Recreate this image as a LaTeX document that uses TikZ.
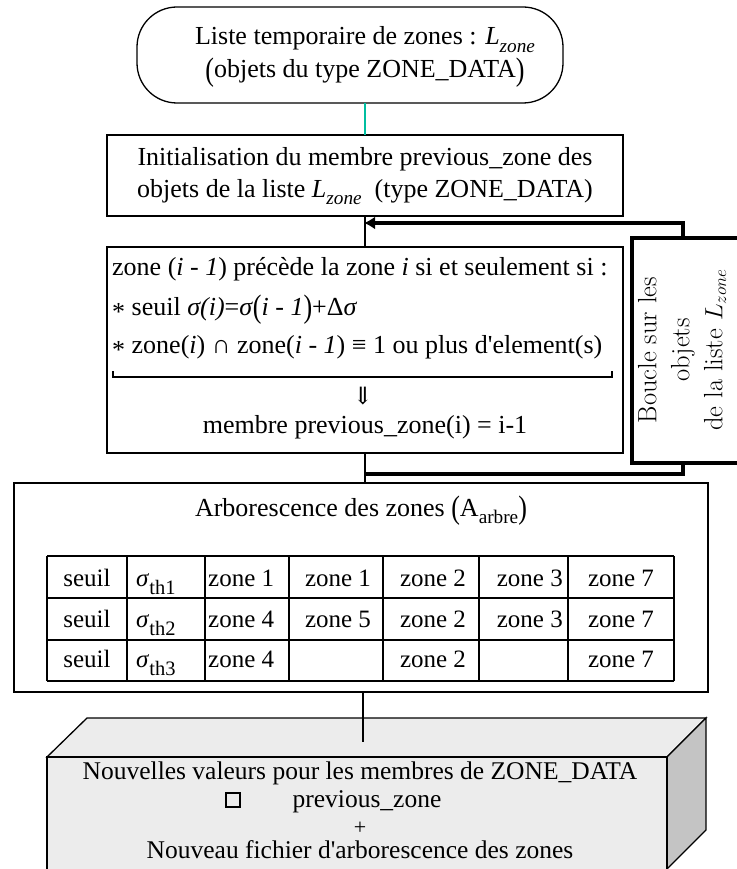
\documentclass[tikz,border=0pt]{standalone}
\usepackage{fontspec}
\usepackage{graphicx}
\setmainfont{Liberation Serif}
\newfontfamily\lmr{Latin Modern Roman}
\newfontfamily\djs{DejaVu Serif}
\usetikzlibrary{arrows.meta}
\definecolor{tealline}{RGB}{0,190,160}
\definecolor{facegray}{RGB}{236,236,236}
\definecolor{sidegray}{RGB}{196,196,196}
\newcommand\sbs[1]{\raisebox{-0.28em}{\scalebox{0.74}{#1}}}
\newcommand\sbt[1]{\raisebox{-0.35em}{\scalebox{0.82}{#1}}}
\newcommand\bigp[1]{\raisebox{-0.08em}{\scalebox{1}[1.25]{#1}}}
\newcommand\astx{\raisebox{-0.2em}{*}}
\begin{document}
\begin{tikzpicture}[x=1pt,y=-1pt,
  frame/.style={draw, line width=1.3pt, inner sep=0pt, outer sep=0pt, anchor=north west},
  tx/.style={font=\fontsize{26}{33}\selectfont, inner sep=0pt, anchor=base},
  txl/.style={font=\fontsize{26}{33}\selectfont, inner sep=0pt, anchor=base west},
  tbl/.style={font=\fontsize{25}{30}\selectfont, inner sep=0pt, anchor=base},
  thinline/.style={line width=1.3pt},
  thickline/.style={line width=4.5pt},
  outtx/.style={font=\fontsize{25.5}{25}\selectfont, inner sep=0pt, anchor=base}]
\useasboundingbox (0,0) rectangle (736,869);

% start terminator
\node[frame, rounded corners=40pt, minimum width=426pt, minimum height=96pt] (start) at (137,7) {};
\node[tx] (t1a) at (365,45) {Liste temporaire de zones : \textit{L}\sbs{\textit{zone}}};
\node[tx] (t1b) at (365,78) {\bigp{(}objets du type ZONE\_DATA\bigp{)}};

% init box
\node[frame, minimum width=516pt, minimum height=81pt] (init) at (107,135) {};
\node[tx] (t2a) at (365,165) {Initialisation du membre previous\_zone des};
\node[tx] (t2b) at (365,197) {objets de la liste \textit{L}\sbs{\textit{zone}}\ \ (type ZONE\_DATA)};
\draw[thinline, tealline] (init.north) -- (init.north |- start.south);

% condition box
\node[frame, minimum width=516pt, minimum height=206pt] (cond) at (107,247) {};
\draw[thinline] (init.south) -- (cond.north);
\node[txl] (c1) at (112,275) {zone (\textit{i} - \textit{1}) précède la zone \textit{i} si et seulement si :};
\node[txl] (c2) at (112,315) {\astx{} seuil \textit{σ(i)}=\textit{σ}\bigp{(}\textit{i} - \textit{1}\bigp{)}+Δ\textit{σ}};
\node[txl] (c3) at (112,353) {\astx{} zone(\textit{i}) ∩ zone(\textit{i} - \textit{1}) ≡ 1 ou plus d\textquotesingle element(s)};
\draw[thinline] (113,371) -- (113,377) -- (612,377) -- (612,371);
\node[inner sep=0pt, font=\djs\fontsize{24}{24}\selectfont] (c4) at (363,396) {⇓};
\node[tx] (c5) at (365,433) {membre previous\_zone(i) = i-1};

% loop box
\node[draw, line width=4.5pt, inner sep=0pt, outer sep=0pt, anchor=north west,
      minimum width=112pt, minimum height=225pt] (loop) at (632,238) {};
\node[rotate=90, align=center, inner sep=0pt, font=\lmr\fontsize{26.5}{33}\selectfont] (looptxt) at (682,350)
  {Boucle sur les\\objets\\de la liste $L_{zone}$};
\coordinate (ltop) at (683,238);
\coordinate (arrtip) at (364,223);
\coordinate (lbot) at (683,463);
\coordinate (jn) at (365,474);
\draw[thickline, -{Latex[length=11pt,width=13pt]}] (ltop) |- (arrtip);
\draw[thickline] (lbot) |- (jn);

% arborescence box
\node[frame, minimum width=694pt, minimum height=209pt] (arbo) at (14,483) {};
\draw[thinline] (cond.south) -- (cond.south |- arbo.north);
\node[tx] (atitle) at (361,516) {Arborescence des zones \bigp{(}A\sbs{arbre}\bigp{)}};

% table
\foreach \x in {47,127,205,289,383,479,568,674} \draw[thinline] (\x,556) -- (\x,681);
\foreach \y in {556,598,640,681} \draw[thinline] (47,\y) -- (674,\y);
\foreach \r/\yb/\sg/\za/\zb/\zc/\zd/\ze in {1/586/1/zone 1/zone 1/zone 2/zone 3/zone 7,
                                           2/627/2/zone 4/zone 5/zone 2/zone 3/zone 7,
                                           3/667/3/zone 4//zone 2//zone 7} {
  \node[tbl] (s\r) at (87,\yb) {seuil};
  \node[tbl, anchor=base west] (g\r) at (136,\yb) {\textit{σ}\sbt{th\sg}};
  \node[tbl, anchor=base west] (za\r) at (208,\yb) {\za};
  \node[tbl] (zb\r) at (338,\yb) {\zb};
  \node[tbl] (zc\r) at (433,\yb) {\zc};
  \node[tbl, anchor=base east] (zd\r) at (563,\yb) {\zd};
  \node[tbl] (ze\r) at (621,\yb) {\ze};
}

% output 3D box
\filldraw[thinline, fill=facegray] (47,757) -- (87,718) -- (706,718) -- (667,757) -- cycle;
\filldraw[thinline, fill=sidegray] (667,757) -- (706,718) -- (706,830) -- (667,869) -- cycle;
\filldraw[thinline, fill=facegray] (47,757) rectangle (667,880);
\coordinate (outtop) at (363,742);
\draw[thinline] (outtop |- arbo.south) -- (outtop);
\node[outtx] (o1) at (360,779) {Nouvelles valeurs pour les membres de ZONE\_DATA};
\node[draw, line width=1.3pt, minimum width=14pt, minimum height=14pt, inner sep=0pt] (osq) at (233,800) {};
\node[outtx] (o2) at (367,807) {previous\_zone};
\node[inner sep=0pt, font=\fontsize{22}{22}\selectfont] (o3) at (360,828) {+};
\node[outtx] (o4) at (360,858) {Nouveau fichier d\textquotesingle arborescence des zones};
\end{tikzpicture}
\end{document}
